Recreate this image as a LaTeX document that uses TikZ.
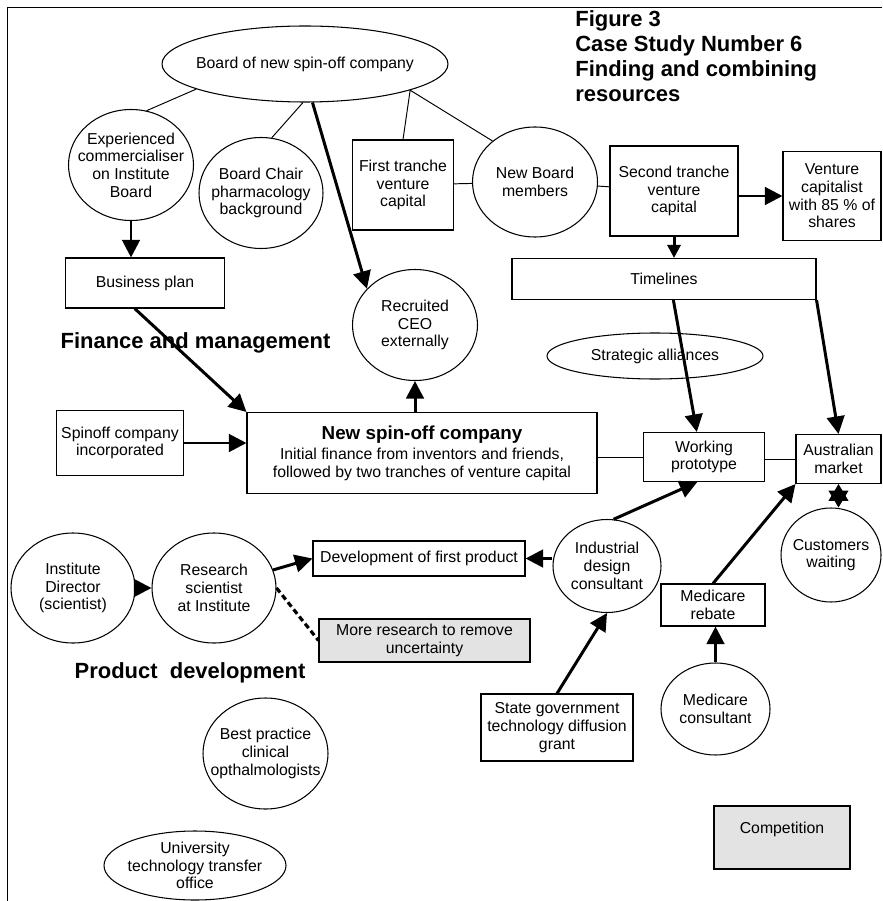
\documentclass[tikz,border=0pt]{standalone}
\usepackage{fontspec}
\setmainfont{Liberation Sans}
\usetikzlibrary{arrows.meta,shapes.geometric}
\definecolor{boxgray}{gray}{0.89}

\begin{document}
\begin{tikzpicture}[
    font=\fontsize{9}{10.1}\selectfont,
    box/.style={rectangle,draw,line width=0.6pt,align=center,inner sep=2pt},
    greybox/.style={box,fill=boxgray},
    bubble/.style={ellipse,draw,line width=0.6pt,align=center,inner sep=-0.3cm},
    heading/.style={font=\bfseries\fontsize{12.5}{14.2}\selectfont,inner sep=0pt},
    flow/.style={line width=1.7pt,-{Triangle[length=10pt,width=10pt]}},
    link/.style={line width=0.55pt}
]
\useasboundingbox (0,0) rectangle (17.64,-18.02);
\draw[line width=1.1pt] (17.64,-0.15) -- (0.15,-0.15) -- (0.15,-18.02);

        % Title
\node[heading,anchor=north west,align=left] (title) at (11.50,-0.21) {Figure 3\\Case Study Number 6\\Finding and combining\\resources};

        % Finance and management
\node[bubble,minimum width=5.72cm,minimum height=1.52cm] (board) at (6.10,-1.28) {Board of new spin-off company};
\node[bubble,minimum width=2.50cm,minimum height=2.22cm] (exp) at (2.62,-3.30) {Experienced\\commercialiser\\on Institute\\Board};
\node[bubble,minimum width=2.48cm,minimum height=2.22cm] (chair) at (5.22,-3.86) {Board Chair\\pharmacology\\background};
\node[box,minimum width=2.02cm,minimum height=1.80cm] (tranche1) at (8.06,-3.70) {First tranche\\venture\\capital};
\node[bubble,minimum width=2.50cm,minimum height=2.20cm] (members) at (10.70,-3.64) {New Board\\members};
\node[box,minimum width=2.56cm,minimum height=1.80cm] (tranche2) at (13.48,-3.82) {Second tranche\\venture\\capital};
\node[box,minimum width=1.96cm,minimum height=1.78cm] (vc) at (16.64,-3.92) {Venture\\capitalist\\with 85 \% of\\shares};
\node[box,minimum width=6.08cm,minimum height=0.82cm] (timelines) at (13.28,-5.58) {Timelines};
\node[box,minimum width=3.18cm,minimum height=1.00cm] (plan) at (2.90,-5.66) {Business plan};
\node[bubble,minimum width=2.50cm,minimum height=2.22cm] (ceo) at (8.30,-6.50) {Recruited\\CEO\\externally};
\node[heading] (finance) at (3.91,-6.85) {Finance and management};
\node[bubble,minimum width=4.32cm,minimum height=0.92cm] (alliances) at (13.10,-7.12) {Strategic alliances};
\node[box,minimum width=2.54cm,minimum height=1.30cm] (incorp) at (2.40,-8.86) {Spinoff company\\incorporated};
\node[box,minimum width=7.00cm,minimum height=1.62cm] (spinoff) at (8.44,-9.06) {{\bfseries\fontsize{10.7}{12}\selectfont New spin-off company}\\[1.5pt]Initial finance from inventors and friends,\\followed by two tranches of venture capital};
\node[box,minimum width=2.42cm,minimum height=0.98cm] (proto) at (14.08,-9.14) {Working\\prototype};
\node[box,minimum width=1.70cm,minimum height=0.98cm] (market) at (16.77,-9.18) {Australian\\market};
\node[bubble,minimum width=2.00cm,minimum height=1.88cm] (customers) at (16.62,-11.10) {Customers\\waiting};

        % Product development
\node[bubble,minimum width=2.16cm,minimum height=1.86cm] (industrial) at (12.14,-11.32) {Industrial\\design\\consultant};
\node[box,minimum width=4.24cm,minimum height=0.70cm] (firstprod) at (8.38,-11.17) {Development of first product};
\node[box,minimum width=2.08cm,minimum height=0.84cm] (rebate) at (14.26,-12.10) {Medicare\\rebate};
\node[bubble,minimum width=2.48cm,minimum height=2.20cm] (director) at (1.46,-11.76) {Institute\\Director\\(scientist)};
\node[bubble,minimum width=2.48cm,minimum height=2.20cm] (researcher) at (4.28,-11.76) {Research\\scientist\\at Institute};
\node[greybox,minimum width=4.22cm,minimum height=0.86cm] (moreres) at (8.49,-12.81) {More research to remove\\uncertainty};
\node[heading] (product) at (3.80,-13.45) {Product\ \ development};
\node[box,minimum width=3.04cm,minimum height=1.34cm] (grant) at (11.14,-14.55) {State government\\technology diffusion\\grant};
\node[bubble,minimum width=2.18cm,minimum height=1.84cm] (medcons) at (14.31,-14.18) {Medicare\\consultant};
\node[bubble,minimum width=2.50cm,minimum height=2.22cm] (clinical) at (5.31,-15.07) {Best practice\\clinical\\opthalmologists};
\node[bubble,minimum width=3.64cm,minimum height=1.38cm] (uni) at (3.90,-17.31) {University\\technology transfer\\office};
\node[greybox,minimum width=2.72cm,text height=0.48cm,text depth=0.64cm] (competition) at (15.64,-16.75) {Competition};

\draw[link] (board.193) -- (exp.74);
\draw[link] (board.267) -- (chair.79);
\draw[link] (board.346) -- (tranche1.north);
\draw[link] (board.346) -- (members.136);
\draw[link] (tranche1) -- (members);
\draw[link] (members) -- (tranche2);
\draw[flow] (board.281) -- (ceo.143);
\draw[flow] (tranche2.east |- vc.west) -- (vc.west);
\draw[flow,-{Triangle[length=7.5pt,width=7.5pt]}] (tranche2.south) -- (tranche2.south |- timelines.north);
\draw[flow] (exp.south) -- (exp.south |- plan.north);
\draw[flow] (plan.248) -- (spinoff.north west);
\draw[flow] (ceo.south |- spinoff.north) -- (ceo.south);
\draw[flow] (incorp.east) -- (incorp.east -| spinoff.west);
\draw[link] (spinoff.east |- proto.west) -- (proto.west);
\draw[link] (market.west -| proto.east) -- (market.west);
\draw[flow] (timelines.294) -- (proto.106);
\draw[flow] (timelines.south east) -- (market.north);
\draw[line width=0.6pt,{Triangle[length=9.6pt,width=11.3pt]}-{Triangle[length=9.6pt,width=11.3pt]}] (market.south) -- (market.south |- customers.north);
\draw[flow] (industrial.82) -- (proto.255);
\draw[flow] (firstprod.east -| industrial.west) -- (firstprod.east);
\draw[flow] (researcher.17) -- (firstprod.west);
\draw[flow] (director) -- (researcher);
\draw[line width=1.8pt,dash pattern=on 3.2pt off 2pt] (researcher.east) -- (moreres.west);
\draw[flow] (rebate.north) -- (market.south west);
\draw[flow] (medcons.north) -- (medcons.north |- rebate.south);
\draw[flow] (grant.north) -- (industrial.south);
    \end{tikzpicture}
\end{document}
